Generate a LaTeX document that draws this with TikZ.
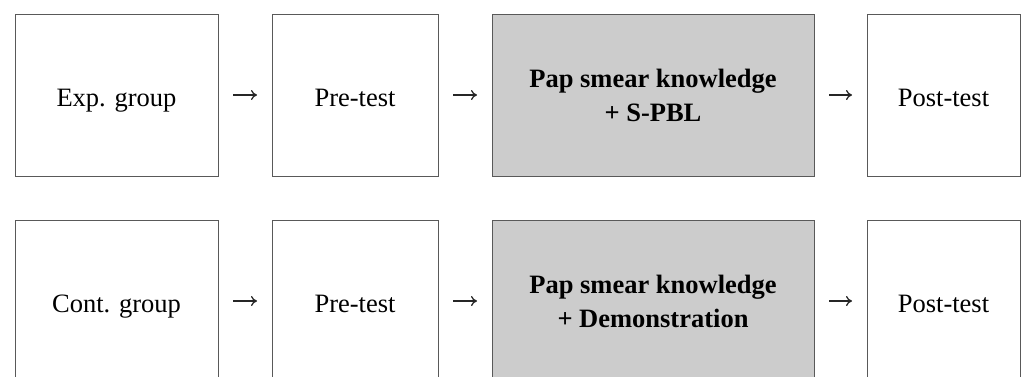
\documentclass[tikz,border=0pt]{standalone}
\usepackage{fontspec}
\setmainfont{Liberation Serif}
\usetikzlibrary{positioning,arrows.meta}
\newcommand{\unitsize}{1pt}

\begin{document}
\begin{tikzpicture}[x=\unitsize,y=\unitsize]
\useasboundingbox (0,0) rectangle (1028,376);
\clip (0,0) rectangle (1028,376);
\tikzstyle{box}=[draw=black!65,
                 line width=1*\unitsize,
                 minimum height=162*\unitsize,
                 inner sep=0pt,
                 outer sep=0pt,
                 align=center
                 ]
\tikzstyle{stage}=[box, text height=24*\unitsize, text depth=2*\unitsize, font=\fontsize{26.5}{34}\selectfont]
\tikzstyle{lesson}=[box, fill=black!20, font=\fontsize{26.5}{34}\selectfont\bfseries]
\tikzstyle{flow}=[-{Computer Modern Rightarrow[length=6*\unitsize,width=10*\unitsize]},
                  line width=1.3*\unitsize, black!85,
                  shorten <=15*\unitsize, shorten >=15*\unitsize]
% experimental group
\node[stage, minimum width=203*\unitsize, anchor=north west] (expgroup) at (15,362) {Exp. group};
\node[stage, minimum width=166*\unitsize, right=54*\unitsize of expgroup] (exppre) {Pre-test};
\node[lesson, minimum width=322*\unitsize, right=54*\unitsize of exppre] (expknow) {Pap smear knowledge\\+ S-PBL};
\node[stage, minimum width=153*\unitsize, right=53*\unitsize of expknow] (exppost) {Post-test};
\draw[flow] (expgroup) -- (exppre);
\draw[flow] (exppre) -- (expknow);
\draw[flow] (expknow) -- (exppost);
% control group
\node[stage, minimum width=203*\unitsize, anchor=north west] (contgroup) at (15,156) {Cont. group};
\node[stage, minimum width=166*\unitsize, right=54*\unitsize of contgroup] (contpre) {Pre-test};
\node[lesson, minimum width=322*\unitsize, right=54*\unitsize of contpre] (contknow) {Pap smear knowledge\\+ Demonstration};
\node[stage, minimum width=153*\unitsize, right=53*\unitsize of contknow] (contpost) {Post-test};
\draw[flow] (contgroup) -- (contpre);
\draw[flow] (contpre) -- (contknow);
\draw[flow] (contknow) -- (contpost);
\end{tikzpicture}
\end{document}
